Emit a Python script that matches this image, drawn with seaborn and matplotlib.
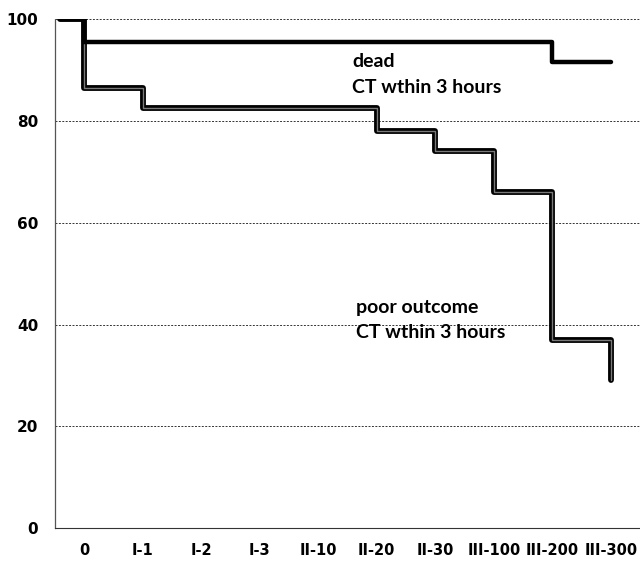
import matplotlib
matplotlib.use("Agg")
import matplotlib.pyplot as plt
import seaborn as sns
import pandas as pd
from matplotlib.ticker import FixedLocator

# Category axis labels (injury grade groups)
categories = ["0", "I-1", "I-2", "I-3", "II-10", "II-20", "II-30", "III-100", "III-200", "III-300"]
y_ticks = [0, 20, 40, 60, 80, 100]

# Step curves, x given in category units (centre of category i = i + 0.5)
dead_x = [0.08, 0.5, 8.5, 9.5]
dead_y = [100, 95.5, 91.5, 91.5]

poor_x = [0.08, 0.5, 1.5, 5.5, 6.5, 7.5, 8.5, 9.5, 9.5]
poor_y = [100, 86.5, 82.5, 78, 74, 66, 37, 37, 29]

sns.set_theme(style="white")
plt.rcParams["font.family"] = ["DejaVu Sans"]
plt.rcParams["text.color"] = "black"
plt.rcParams["xtick.color"] = "black"
plt.rcParams["ytick.color"] = "black"

fig = plt.figure(figsize=(6.4, 5.63), dpi=100)
ax = fig.add_axes([0.086, 0.062, 0.914, 0.904])

dead_df = pd.DataFrame({"x": dead_x, "y": dead_y})
poor_df = pd.DataFrame({"x": poor_x, "y": poor_y})

# poor outcome: dark outline with lighter core
sns.lineplot(data=poor_df, x="x", y="y", ax=ax, sort=False, estimator=None,
             drawstyle="steps-post", color="black", lw=4.2, zorder=3)
sns.lineplot(data=poor_df, x="x", y="y", ax=ax, sort=False, estimator=None,
             drawstyle="steps-post", color="#7a7a7a", lw=1.0, zorder=4)
# dead: solid black
sns.lineplot(data=dead_df, x="x", y="y", ax=ax, sort=False, estimator=None,
             drawstyle="steps-post", color="black", lw=3.2, zorder=5)

ax.set_xlim(0, len(categories))
ax.set_ylim(0, 100)

# gridlines
for v in y_ticks[1:]:
    ax.axhline(v, color="#333333", lw=0.7, ls=(0, (2, 1.5)), zorder=1)

ax.set_yticks(y_ticks)
ax.set_yticklabels([str(v) for v in y_ticks], fontsize=11, fontweight="bold")
ax.tick_params(axis="y", length=0, pad=12, colors="black")

ax.set_xticks([i + 0.5 for i in range(len(categories))])
ax.set_xticklabels(categories, fontsize=10.5, fontweight="bold")
ax.tick_params(axis="x", which="major", length=0, pad=11, colors="black")
ax.xaxis.set_minor_locator(FixedLocator(range(1, len(categories))))
ax.tick_params(axis="x", which="minor", length=3, width=0.7, color="#333333", direction="out")

ax.set_xlabel("")
ax.set_ylabel("")

for side in ["top", "right"]:
    ax.spines[side].set_visible(False)
ax.spines["left"].set_color("#555555")
ax.spines["left"].set_linestyle((0, (1, 1)))
ax.spines["left"].set_linewidth(0.9)
ax.spines["bottom"].set_color("#333333")
ax.spines["bottom"].set_linewidth(0.8)

label_font = dict(fontsize=14, fontweight="bold", color="black",
                  family=["Lato", "DejaVu Sans"], va="baseline", ha="left", zorder=6)
ax.text(5.08, 90.6, "dead", **label_font)
ax.text(5.08, 85.5, "CT wthin 3 hours", **label_font)
ax.text(5.14, 42.2, "poor outcome", **label_font)
ax.text(5.14, 37.3, "CT wthin 3 hours", **label_font)

fig.savefig("out.png", dpi=100)
